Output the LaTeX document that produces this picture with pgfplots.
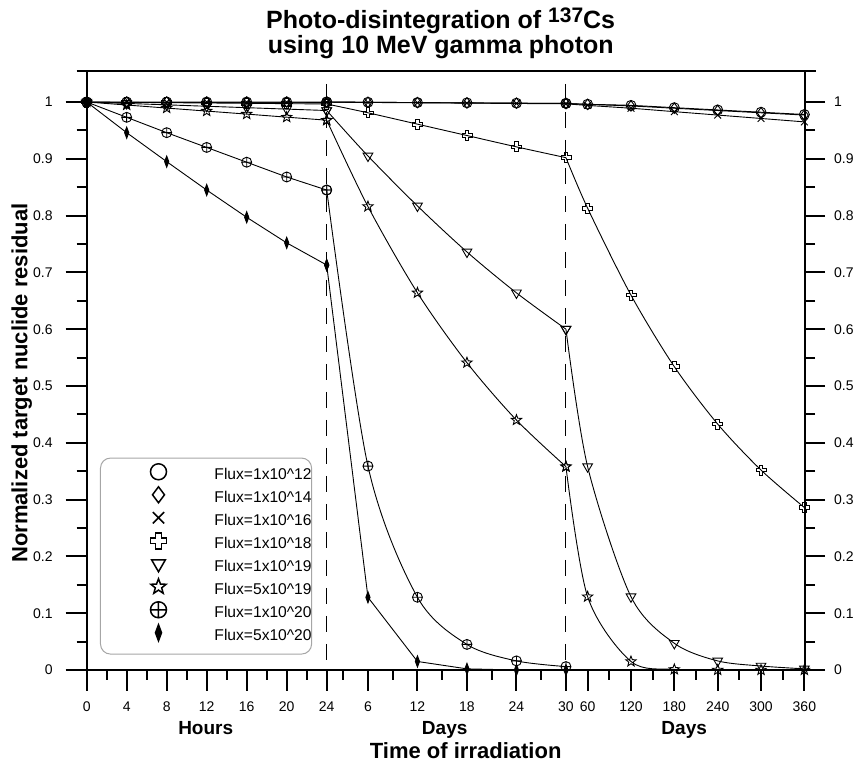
\documentclass[border=0pt]{standalone}
\usepackage{pgfplots}
\pgfplotsset{compat=1.18}
\usepackage{fontspec}
\setmainfont{Liberation Sans}
\usetikzlibrary{plotmarks}

\pgfdeclareplotmark{ocross}{%
  \pgfpathmoveto{\pgfpoint{-0.36\pgfplotmarksize}{\pgfplotmarksize}}%
  \pgfpathlineto{\pgfpoint{0.36\pgfplotmarksize}{\pgfplotmarksize}}%
  \pgfpathlineto{\pgfpoint{0.36\pgfplotmarksize}{0.36\pgfplotmarksize}}%
  \pgfpathlineto{\pgfpoint{\pgfplotmarksize}{0.36\pgfplotmarksize}}%
  \pgfpathlineto{\pgfpoint{\pgfplotmarksize}{-0.36\pgfplotmarksize}}%
  \pgfpathlineto{\pgfpoint{0.36\pgfplotmarksize}{-0.36\pgfplotmarksize}}%
  \pgfpathlineto{\pgfpoint{0.36\pgfplotmarksize}{-\pgfplotmarksize}}%
  \pgfpathlineto{\pgfpoint{-0.36\pgfplotmarksize}{-\pgfplotmarksize}}%
  \pgfpathlineto{\pgfpoint{-0.36\pgfplotmarksize}{-0.36\pgfplotmarksize}}%
  \pgfpathlineto{\pgfpoint{-\pgfplotmarksize}{-0.36\pgfplotmarksize}}%
  \pgfpathlineto{\pgfpoint{-\pgfplotmarksize}{0.36\pgfplotmarksize}}%
  \pgfpathlineto{\pgfpoint{-0.36\pgfplotmarksize}{0.36\pgfplotmarksize}}%
  \pgfpathclose\pgfusepathqstroke}
\pgfdeclareplotmark{ostar}{%
  \pgfpathmoveto{\pgfpointpolar{90}{\pgfplotmarksize}}%
  \pgfpathlineto{\pgfpointpolar{126}{0.42\pgfplotmarksize}}%
  \pgfpathlineto{\pgfpointpolar{162}{\pgfplotmarksize}}%
  \pgfpathlineto{\pgfpointpolar{198}{0.42\pgfplotmarksize}}%
  \pgfpathlineto{\pgfpointpolar{234}{\pgfplotmarksize}}%
  \pgfpathlineto{\pgfpointpolar{270}{0.42\pgfplotmarksize}}%
  \pgfpathlineto{\pgfpointpolar{306}{\pgfplotmarksize}}%
  \pgfpathlineto{\pgfpointpolar{342}{0.42\pgfplotmarksize}}%
  \pgfpathlineto{\pgfpointpolar{18}{\pgfplotmarksize}}%
  \pgfpathlineto{\pgfpointpolar{54}{0.42\pgfplotmarksize}}%
  \pgfpathclose\pgfusepathqstroke}

\pgfplotsset{
  sA/.style={black, line width=0.45pt, mark=o, mark size=2.5pt},
  sB/.style={black, line width=0.45pt, mark=diamond, mark size=2.6pt},
  sC/.style={black, line width=0.45pt, mark=x, mark size=2.4pt},
  sD/.style={black, line width=0.45pt, mark=ocross, mark size=2.5pt},
  sE/.style={black, line width=0.45pt, mark=triangle, mark size=2.8pt, mark options={rotate=180}},
  sF/.style={black, line width=0.45pt, mark=ostar, mark size=2.7pt},
  sG/.style={black, line width=0.45pt, mark=oplus, mark size=2.5pt},
  sH/.style={black, line width=0.45pt, mark=diamond*, mark size=2.8pt, mark options={xscale=0.5}},
}

\begin{document}
\begin{tikzpicture}
\begin{axis}[
  scale only axis, width=359.15pt, height=299.5pt,
  xmin=0, xmax=71.83, ymin=0, ymax=1.0546,
  clip=false,
  axis line style={line width=1pt},
  xtick={0,4,8,12,16,20,24,28.125,33.075,38.025,42.975,47.925,50.0925,54.4275,58.7625,63.0975,67.4325,71.7675},
  xticklabels={0,4,8,12,16,20,24,6,12,18,24,30,60,120,180,240,300,360},
  minor xtick={2,6,10,14,18,22,25.65,30.6,35.55,40.5,45.45,52.26,56.595,60.93,65.265,69.6},
  ytick={0,0.1,0.2,0.3,0.4,0.5,0.6,0.7,0.8,0.9,1},
  minor ytick={0.05,0.15,0.25,0.35,0.45,0.55,0.65,0.75,0.85,0.95},
  tick align=outside, xtick pos=bottom, ytick pos=left,
  major tick length=10.5pt, minor tick length=5pt,
  tick style={black, line width=1pt},
  tick label style={font=\fontsize{7}{8}\selectfont},
  /pgf/number format/assume math mode=true,
  xticklabel style={yshift=-2pt},
  yticklabel style={xshift=-3pt},
  legend style={at={(axis cs:1.33,0.374)}, anchor=north west, draw=black!35, line width=0.5pt,
    rounded corners=5pt, inner xsep=0pt, inner ysep=6pt, row sep=6pt,
    font=\fontsize{7.8}{8}\selectfont,
    nodes={inner sep=0pt, text height=4.6pt, text depth=0.9pt}},
  legend cell align=left,
  legend image code/.code={%
    \path[draw=none] (0pt,-2.75pt) (57pt,2.75pt);
    \draw[#1, sharp corners, overlay, mark size=4pt, line width=0.75pt] plot[only marks] coordinates {(29pt,1.9pt)};
  },
]
% dashed separators
\addplot[forget plot, no marks, black, line width=0.5pt, dash pattern=on 8pt off 6pt] coordinates {(24,1.032) (24,0)};
\addplot[forget plot, no marks, black, line width=0.5pt, dash pattern=on 8pt off 6pt] coordinates {(47.925,1.032) (47.925,0)};
% extended frame lines
\addplot[forget plot, no marks, black, line width=1pt] coordinates {(-1,1.0546) (72.9,1.0546)};
\addplot[forget plot, no marks, black, line width=1pt] coordinates {(-2,0) (73.6,0)};

% Flux 1e12
\addplot[sA, sharp plot] coordinates {(0,1) (4,1) (8,1) (12,1) (16,1) (20,1) (24,1)};
\addlegendentry{Flux=1x10\textasciicircum 12\hspace{8pt}}
\addplot[sA, smooth, forget plot] coordinates {(24,1) (28.125,0.9995) (33.075,0.999) (38.025,0.9985) (42.975,0.998) (47.925,0.9975)};
\addplot[sA, smooth, forget plot] coordinates {(47.925,0.9975) (50.0925,0.996) (54.4275,0.994) (58.7625,0.990) (63.0975,0.986) (67.4325,0.982) (71.7675,0.978)};
% Flux 1e14
\addplot[sB, sharp plot] coordinates {(0,1) (4,1) (8,1) (12,1) (16,1) (20,1) (24,1)};
\addlegendentry{Flux=1x10\textasciicircum 14}
\addplot[sB, smooth, forget plot] coordinates {(24,1) (28.125,0.9995) (33.075,0.999) (38.025,0.9984) (42.975,0.9979) (47.925,0.9974)};
\addplot[sB, smooth, forget plot] coordinates {(47.925,0.9974) (50.0925,0.9958) (54.4275,0.993) (58.7625,0.989) (63.0975,0.985) (67.4325,0.981) (71.7675,0.977)};
% Flux 1e16
\addplot[sC, sharp plot] coordinates {(0,1) (4,1) (8,0.9999) (12,0.9999) (16,0.9998) (20,0.9998) (24,0.9997)};
\addlegendentry{Flux=1x10\textasciicircum 16}
\addplot[sC, smooth, forget plot] coordinates {(24,0.9997) (28.125,0.9992) (33.075,0.9986) (38.025,0.998) (42.975,0.9974) (47.925,0.9968)};
\addplot[sC, smooth, forget plot] coordinates {(47.925,0.9968) (50.0925,0.994) (54.4275,0.989) (58.7625,0.983) (63.0975,0.977) (67.4325,0.971) (71.7675,0.965)};
% Flux 1e18
\addplot[sD, sharp plot] coordinates {(0,1) (4,0.9994) (8,0.9988) (12,0.9983) (16,0.9977) (20,0.9971) (24,0.9965)};
\addlegendentry{Flux=1x10\textasciicircum 18}
\addplot[sD, smooth, forget plot] coordinates {(24,0.9965) (28.125,0.981) (33.075,0.961) (38.025,0.941) (42.975,0.921) (47.925,0.902)};
\addplot[sD, smooth, forget plot] coordinates {(47.925,0.902) (50.0925,0.813) (54.4275,0.660) (58.7625,0.534) (63.0975,0.433) (67.4325,0.352) (71.7675,0.286)};
% Flux 1e19
\addplot[sE, sharp plot] coordinates {(0,1) (4,0.9975) (8,0.995) (12,0.9925) (16,0.990) (20,0.9875) (24,0.985)};
\addlegendentry{Flux=1x10\textasciicircum 19}
\addplot[sE, smooth, forget plot] coordinates {(24,0.985) (28.125,0.905) (33.075,0.817) (38.025,0.736) (42.975,0.664) (47.925,0.600)};
\addplot[sE, smooth, forget plot] coordinates {(47.925,0.600) (50.0925,0.358) (54.4275,0.129) (58.7625,0.047) (63.0975,0.016) (67.4325,0.007) (71.7675,0.002)};
% Flux 5e19
\addplot[sF, sharp plot] coordinates {(0,1) (4,0.9947) (8,0.9893) (12,0.984) (16,0.9787) (20,0.9733) (24,0.968)};
\addlegendentry{Flux=5x10\textasciicircum 19}
\addplot[sF, smooth, forget plot] coordinates {(24,0.968) (28.125,0.816) (33.075,0.664) (38.025,0.541) (42.975,0.440) (47.925,0.358)};
\addplot[sF, smooth, forget plot] coordinates {(47.925,0.358) (50.0925,0.129) (54.4275,0.015) (58.7625,0.001) (63.0975,0) (67.4325,0) (71.7675,0)};
% Flux 1e20
\addplot[sG, sharp plot] coordinates {(0,1) (4,0.973) (8,0.946) (12,0.920) (16,0.894) (20,0.868) (24,0.845)};
\addlegendentry{Flux=1x10\textasciicircum 20}
\addplot[sG, smooth, forget plot] coordinates {(24,0.845) (28.125,0.359) (33.075,0.128) (38.025,0.045) (42.975,0.016) (47.925,0.006)};
% Flux 5e20
\addplot[sH, sharp plot] coordinates {(0,1) (4,0.946) (8,0.895) (12,0.845) (16,0.797) (20,0.752) (24,0.713)};
\addlegendentry{Flux=5x10\textasciicircum 20}
\addplot[sH, sharp plot, forget plot] coordinates {(24,0.713) (28.125,0.128) (33.075,0.015) (38.025,0.002) (42.975,0) (47.925,0)};

% texts
\node[anchor=base, font=\bfseries\fontsize{12.5}{14}\selectfont] at (axis cs:35.4,1.130) {Photo-disintegration of \raisebox{3pt}{\fontsize{10.5}{11}\selectfont 137}Cs};
\node[anchor=base, font=\bfseries\fontsize{12.5}{14}\selectfont] at (axis cs:35.4,1.085) {using 10 MeV gamma photon};
\node[anchor=base, font=\bfseries\fontsize{9.5}{11}\selectfont] at (axis cs:11.9,-0.1127) {Hours};
\node[anchor=base, font=\bfseries\fontsize{9.5}{11}\selectfont] at (axis cs:35.8,-0.1127) {Days};
\node[anchor=base, font=\bfseries\fontsize{9.5}{11}\selectfont] at (axis cs:59.75,-0.1127) {Days};
\node[anchor=base, font=\bfseries\fontsize{11}{13}\selectfont] at (axis cs:37.9,-0.155) {Time of irradiation};
\node[rotate=90, anchor=center, font=\bfseries\fontsize{11}{13}\selectfont] at (axis cs:-6.5,0.505) {Normalized target nuclide residual};
\coordinate (bbTL) at (axis cs:-8.67,1.1796);
\coordinate (bbBR) at (axis cs:77.03,-0.1673);
\end{axis}
\begin{axis}[
  scale only axis, width=359.15pt, height=299.5pt,
  xmin=0, xmax=71.83, ymin=0, ymax=1.0546,
  axis x line=none, axis y line*=right,
  axis line style={line width=1pt},
  ytick={0,0.1,0.2,0.3,0.4,0.5,0.6,0.7,0.8,0.9,1},
  minor ytick={0.05,0.15,0.25,0.35,0.45,0.55,0.65,0.75,0.85,0.95},
  tick align=outside,
  major tick length=10pt, minor tick length=5pt,
  tick style={black, line width=1pt},
  tick label style={font=\fontsize{7}{8}\selectfont},
  /pgf/number format/assume math mode=true,
  yticklabel style={xshift=1pt},
]
\end{axis}
\pgfresetboundingbox
\path[use as bounding box] (bbTL) rectangle (bbBR);
\end{tikzpicture}
\end{document}
